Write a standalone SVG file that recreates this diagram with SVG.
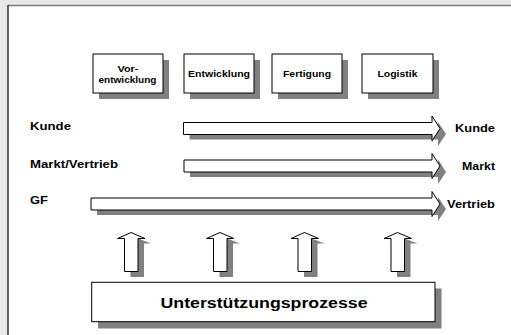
<svg xmlns="http://www.w3.org/2000/svg" width="511" height="335" viewBox="0 0 511 335">
<style>
.box{fill:#fff;stroke:#000;stroke-width:1}
.sh{fill:#808080}
.t{font-family:"Liberation Sans",Arial,sans-serif;font-weight:bold;fill:#000}
.arr{fill:#fff;stroke:#000;stroke-width:1;stroke-linejoin:miter}
</style>
<rect x="0" y="0" width="511" height="335" fill="#e8e8e8"/>
<rect x="8" y="5.5" width="503" height="329.5" fill="#fff"/>
<line x1="8" y1="5.5" x2="511" y2="5.5" stroke="#7a7a7a" stroke-width="1.6"/>
<line x1="8" y1="5" x2="8" y2="335" stroke="#222" stroke-width="1.4"/>

<g id="node-vorentwicklung">
<rect class="sh" x="99" y="60" width="70" height="39"/>
<rect class="box" x="93" y="54" width="70" height="39"/>
<text class="t" x="128" y="71.5" font-size="9.5" text-anchor="middle" textLength="21" lengthAdjust="spacingAndGlyphs">Vor-</text>
<text class="t" x="127.5" y="82.5" font-size="9.5" text-anchor="middle" textLength="58" lengthAdjust="spacingAndGlyphs">entwicklung</text>
</g>
<g id="node-entwicklung">
<rect class="sh" x="190" y="60" width="70" height="39"/>
<rect class="box" x="184" y="54" width="70" height="39"/>
<text class="t" x="219" y="77.3" font-size="9.5" text-anchor="middle" textLength="62" lengthAdjust="spacingAndGlyphs">Entwicklung</text>
</g>
<g id="node-fertigung">
<rect class="sh" x="278" y="60" width="70" height="39"/>
<rect class="box" x="272" y="54" width="70" height="39"/>
<text class="t" x="307" y="77" font-size="9.5" text-anchor="middle" textLength="48" lengthAdjust="spacingAndGlyphs">Fertigung</text>
</g>
<g id="node-logistik">
<rect class="sh" x="368" y="60" width="71" height="39"/>
<rect class="box" x="362" y="54" width="71" height="39"/>
<text class="t" x="397.5" y="77" font-size="9.5" text-anchor="middle" textLength="40" lengthAdjust="spacingAndGlyphs">Logistik</text>
</g>

<g id="labels">
<text class="t" x="30" y="130" font-size="11" textLength="41" lengthAdjust="spacingAndGlyphs">Kunde</text>
<text class="t" x="30" y="168.3" font-size="11" textLength="88" lengthAdjust="spacingAndGlyphs">Markt/Vertrieb</text>
<text class="t" x="30" y="204" font-size="11" textLength="18" lengthAdjust="spacingAndGlyphs">GF</text>
<text class="t" x="495" y="131.5" font-size="11" text-anchor="end" textLength="40" lengthAdjust="spacingAndGlyphs">Kunde</text>
<text class="t" x="495" y="169.5" font-size="11" text-anchor="end" textLength="33" lengthAdjust="spacingAndGlyphs">Markt</text>
<text class="t" x="495" y="208" font-size="11" text-anchor="end" textLength="48" lengthAdjust="spacingAndGlyphs">Vertrieb</text>
</g>

<g id="connectors">
<polygon class="sh" points="189.5,128.5 438,128.5 438,122 446,134 438,146 438,139.5 189.5,139.5"/>
<polygon class="arr" points="183.5,122.5 432,122.5 432,116 440,128.5 432,141 432,134.5 183.5,134.5"/>
<polygon class="sh" points="190,166 438,166 438,159.5 446,172 438,184 438,177 190,177"/>
<polygon class="arr" points="184,160 432,160 432,153.5 440,166 432,178.5 432,172 184,172"/>
<polygon class="sh" points="97,203 438,203 438,197 446,209 438,221 438,215 97,215"/>
<polygon class="arr" points="91,198 432,198 432,191.5 440,204 432,216.5 432,210 91,210"/>
<g id="up1">
<polygon class="sh" points="130.5,277 144,277 144,243.5 151,243.5 137,238 123.5,243.5 130.5,243.5"/>
<polygon class="arr" points="124.5,271.5 138,271.5 138,238.5 145,238.5 131,232.5 117.5,238.5 124.5,238.5"/>
</g>
<g id="up2">
<polygon class="sh" points="219.5,277 233,277 233,243.5 240,243.5 226,238 212.5,243.5 219.5,243.5"/>
<polygon class="arr" points="213.5,271.5 227,271.5 227,238.5 234,238.5 220,232.5 206.5,238.5 213.5,238.5"/>
</g>
<g id="up3">
<polygon class="sh" points="304,277 317.5,277 317.5,243.5 324.5,243.5 310.5,238 297,243.5 304,243.5"/>
<polygon class="arr" points="298,271.5 311.5,271.5 311.5,238.5 318.5,238.5 304.5,232.5 291,238.5 298,238.5"/>
</g>
<g id="up4">
<polygon class="sh" points="397,277 410.5,277 410.5,243.5 417.5,243.5 403.5,238 390,243.5 397,243.5"/>
<polygon class="arr" points="391,271.5 404.5,271.5 404.5,238.5 411.5,238.5 397.5,232.5 384,238.5 391,238.5"/>
</g>
</g>

<g id="node-unterstuetzung">
<rect class="sh" x="98" y="288.5" width="343.5" height="40"/>
<rect class="box" x="91.7" y="282.3" width="343.3" height="39.4"/>
<text class="t" x="264" y="307.5" font-size="14" text-anchor="middle" textLength="207" lengthAdjust="spacingAndGlyphs">Unterstützungsprozesse</text>
</g>
</svg>
